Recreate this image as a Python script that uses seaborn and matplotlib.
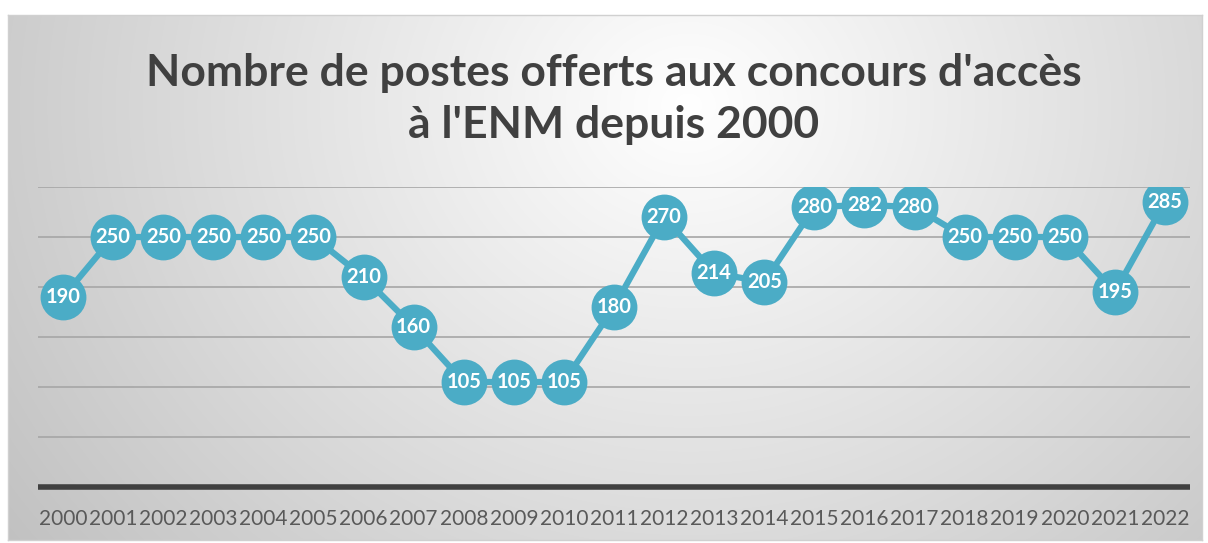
import matplotlib as mpl
import matplotlib.pyplot as plt
import seaborn as sns
import numpy as np
import pandas as pd

mpl.use('Agg')

years = [str(y) for y in range(2000, 2023)]
postes = [190, 250, 250, 250, 250, 250, 210, 160, 105, 105, 105, 180, 270,
          214, 205, 280, 282, 280, 250, 250, 250, 195, 285]
title = "Nombre de postes offerts aux concours d'accès\nà l'ENM depuis 2000"

df = pd.DataFrame({"annee": years, "postes": postes})

sns.set_theme(style="white")
plt.rcParams['font.family'] = ['Lato', 'DejaVu Sans']

W, H = 1208, 543
fig = plt.figure(figsize=(W / 100, H / 100), dpi=100)
fig.patch.set_facecolor("white")

# background box with radial gradient
bg = fig.add_axes([8 / W, 1 - 540 / H, 1194 / W, 525 / H])
yy, xx = np.mgrid[0:525, 0:1194]
r = np.sqrt(((xx - 680) / 800) ** 2 + ((yy - 90) / 700) ** 2)
shade = np.clip(1.0 - 0.23 * r, 0.76, 1.0)
bg.imshow(np.dstack([shade] * 3), aspect="auto", extent=(0, 1, 0, 1))
bg.set_xticks([])
bg.set_yticks([])
for s in bg.spines.values():
    s.set_color("#d0d0d0")
    s.set_linewidth(1)

ax = fig.add_axes([38 / W, 1 - 487 / H, 1152 / W, 300 / H])
ax.patch.set_alpha(0)
sns.lineplot(data=df, x="annee", y="postes", ax=ax, color="#4BACC6",
             linewidth=4.5, marker="o", markersize=33,
             markeredgewidth=0, sort=False, zorder=3)
for i, v in enumerate(postes):
    ax.text(i, v, str(v), ha="center", va="center", color="white",
            fontsize=14.5, fontweight="bold", zorder=4)

ax.set_xlim(-0.5, len(years) - 0.5)
ax.set_ylim(0, 300)
ax.set_yticks([50, 100, 150, 200, 250, 300])
ax.yaxis.grid(True, color="#a6a6a6", linewidth=1.2)
ax.tick_params(axis="y", left=False, labelleft=False)
ax.tick_params(axis="x", bottom=False, labelsize=15, labelcolor="#595959", pad=10)
ax.set_xlabel("")
ax.set_ylabel("")
for k in ["left", "right", "top"]:
    ax.spines[k].set_visible(False)
ax.spines["bottom"].set_color("#404040")
ax.spines["bottom"].set_linewidth(4)
ax.spines["bottom"].set_capstyle("butt")

fig.text(614 / W, 1 - 99 / H, title, ha="center", va="center",
         fontsize=32, fontweight="bold", color="#404040", linespacing=1.35)

fig.savefig("out.png", dpi=100)
